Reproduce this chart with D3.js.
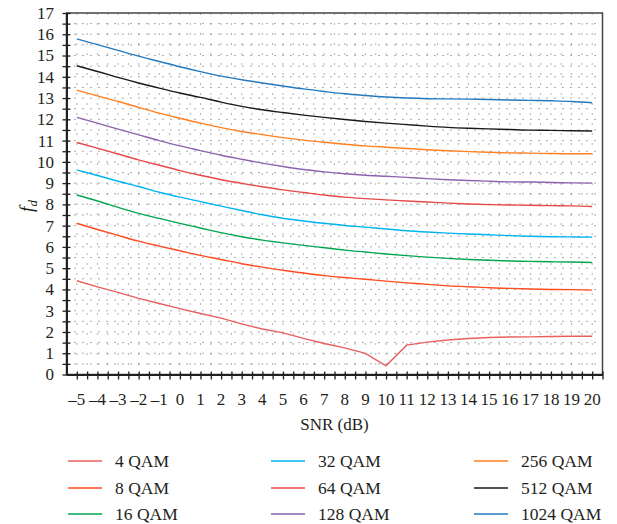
<!DOCTYPE html>
<html>
<head>
<meta charset="utf-8">
<script src="https://cdn.jsdelivr.net/npm/d3@7"></script>
<style>
  body { margin: 0; background: #fff; }
  svg { display: block; }
  text { font-family: "Liberation Serif", "DejaVu Serif", serif; fill: #231f20; }
</style>
</head>
<body>
<svg id="chart" width="617" height="524"></svg>
<script>
const snr = d3.range(-5, 21);
const xTickLabels = snr.map(v => v < 0 ? "\u2013" + Math.abs(v) : String(v));
const yTickValues = d3.range(0, 18);
const seriesNames = ["4 QAM", "8 QAM", "16 QAM", "32 QAM", "64 QAM", "128 QAM", "256 QAM", "512 QAM", "1024 QAM"];
const seriesColors = ["#e8605e", "#ff4a1f", "#00a650", "#00b4f0", "#e84848", "#8c62b0", "#ff8020", "#1a1a1a", "#2279c0"];

const qam4    = [4.41, 4.12, 3.86, 3.58, 3.34, 3.10, 2.87, 2.65, 2.38, 2.14, 1.96, 1.70, 1.46, 1.25, 0.99, 0.41, 1.38, 1.52, 1.62, 1.69, 1.74, 1.76, 1.77, 1.79, 1.80, 1.80];
const qam8    = [7.11, 6.82, 6.54, 6.27, 6.04, 5.82, 5.60, 5.41, 5.21, 5.05, 4.90, 4.77, 4.65, 4.56, 4.48, 4.39, 4.31, 4.24, 4.17, 4.13, 4.08, 4.05, 4.02, 4.00, 3.99, 3.97];
const qam16   = [8.44, 8.16, 7.86, 7.58, 7.34, 7.11, 6.89, 6.67, 6.48, 6.32, 6.19, 6.07, 5.96, 5.85, 5.76, 5.67, 5.59, 5.52, 5.46, 5.41, 5.37, 5.34, 5.32, 5.30, 5.29, 5.27];
const qam32   = [9.62, 9.36, 9.09, 8.84, 8.57, 8.34, 8.13, 7.92, 7.71, 7.51, 7.35, 7.22, 7.11, 7.01, 6.93, 6.84, 6.76, 6.70, 6.65, 6.61, 6.57, 6.53, 6.50, 6.48, 6.47, 6.46];
const qam64   = [10.91, 10.64, 10.37, 10.09, 9.84, 9.59, 9.37, 9.16, 8.99, 8.83, 8.68, 8.56, 8.44, 8.34, 8.27, 8.21, 8.16, 8.11, 8.06, 8.02, 7.99, 7.97, 7.96, 7.94, 7.93, 7.90];
const qam128  = [12.09, 11.82, 11.54, 11.27, 11.00, 10.75, 10.53, 10.31, 10.12, 9.94, 9.78, 9.64, 9.53, 9.44, 9.37, 9.32, 9.27, 9.21, 9.16, 9.12, 9.09, 9.06, 9.05, 9.03, 9.01, 9.00];
const qam256  = [13.37, 13.10, 12.84, 12.56, 12.29, 12.05, 11.82, 11.61, 11.43, 11.28, 11.14, 11.02, 10.92, 10.83, 10.75, 10.69, 10.63, 10.57, 10.52, 10.48, 10.45, 10.42, 10.41, 10.39, 10.38, 10.38];
const qam512  = [14.52, 14.25, 13.97, 13.71, 13.47, 13.24, 13.03, 12.81, 12.61, 12.45, 12.32, 12.20, 12.09, 11.99, 11.90, 11.82, 11.75, 11.68, 11.62, 11.58, 11.55, 11.52, 11.49, 11.48, 11.46, 11.45];
const qam1024 = [15.78, 15.51, 15.24, 14.97, 14.72, 14.47, 14.24, 14.03, 13.86, 13.71, 13.57, 13.43, 13.31, 13.20, 13.12, 13.05, 13.00, 12.97, 12.96, 12.95, 12.93, 12.91, 12.89, 12.87, 12.84, 12.78];

const seriesValues = [qam4, qam8, qam16, qam32, qam64, qam128, qam256, qam512, qam1024];

const svg = d3.select("#chart");
const L = 66.5, R = 602.5, T = 13, B = 374.5;
const x = d3.scaleLinear().domain([-5.5, 20.5]).range([L, R]);
const y = d3.scaleLinear().domain([0, 17]).range([B, T]);

// dotted grid
const halfX = d3.range(-5, 20.51, 0.5);
const halfY = d3.range(0.5, 17, 0.5);
const grid = svg.append("g");
grid.selectAll("line.h").data(halfY).join("line").attr("class", "h")
  .attr("x1", L).attr("x2", R).attr("y1", d => y(d)).attr("y2", d => y(d))
  .attr("stroke", "#555").attr("stroke-width", 1).attr("stroke-dasharray", "1,7");
grid.selectAll("line.v").data(halfX).join("line").attr("class", "v")
  .attr("y1", B).attr("y2", T).attr("x1", d => x(d)).attr("x2", d => x(d))
  .attr("stroke", "#666").attr("stroke-width", 1).attr("stroke-dasharray", "1,9");

// frame
svg.append("rect").attr("x", L).attr("y", T).attr("width", R - L).attr("height", B - T)
  .attr("fill", "none").attr("stroke", "#444").attr("stroke-width", 1.5);

// lines (4 QAM keeps its sharp kinks, the others are smooth)
const lineSmooth = d3.line().x((d, i) => x(snr[i])).y(d => y(d)).curve(d3.curveMonotoneX);
const lineStraight = d3.line().x((d, i) => x(snr[i])).y(d => y(d));
svg.append("g").selectAll("path").data(seriesValues).join("path")
  .attr("d", (d, i) => i === 0 ? lineStraight(d) : lineSmooth(d))
  .attr("fill", "none")
  .attr("stroke", (d, i) => seriesColors[i])
  .attr("stroke-width", 1.4);

// axes
const xAxis = d3.axisBottom(x).tickValues(d3.range(-5, 20.51, 0.5)).tickSize(0).tickFormat("");
const gx = svg.append("g").attr("transform", `translate(0,${B})`).call(xAxis);
gx.select(".domain").attr("stroke", "#231f20").attr("stroke-width", 2);
gx.selectAll(".tick line").attr("y1", -3).attr("y2", 5).attr("stroke", "#231f20").attr("stroke-width", 1.3);

svg.append("g").selectAll("text").data(snr).join("text")
  .attr("x", d => x(d)).attr("y", 405)
  .attr("text-anchor", "middle").attr("font-size", 17)
  .text((d, i) => xTickLabels[i]);

const yAxis = d3.axisLeft(y).tickValues(d3.range(0, 17.01, 0.5)).tickSize(0).tickFormat("");
const gy = svg.append("g").attr("transform", `translate(${L},0)`).call(yAxis);
gy.select(".domain").attr("stroke", "#231f20").attr("stroke-width", 2);
gy.selectAll(".tick line").attr("x1", -4).attr("x2", 4).attr("stroke", "#231f20").attr("stroke-width", 1.3);

svg.append("g").selectAll("text").data(yTickValues).join("text")
  .attr("x", 54).attr("y", d => y(d)).attr("dy", "0.35em")
  .attr("text-anchor", "end").attr("font-size", 17)
  .text(d => d);

// axis titles
svg.append("text").attr("x", x(7.5)).attr("y", 430).attr("text-anchor", "middle")
  .attr("font-size", 17).text("SNR (dB)");

const yt = svg.append("text").attr("transform", "translate(33,206) rotate(-90)")
  .attr("text-anchor", "middle").attr("font-size", 19).attr("font-style", "italic");
yt.append("tspan").text("f");
yt.append("tspan").attr("font-size", 13).attr("dy", 4).text("d");

// legend
const colX = [68, 271, 474];
const rowY = [461, 488, 514];
const leg = svg.append("g").selectAll("g").data(seriesNames).join("g")
  .attr("transform", (d, i) => `translate(${colX[Math.floor(i / 3)]},${rowY[i % 3]})`);
leg.append("line").attr("x1", 0).attr("x2", 34).attr("y1", 0).attr("y2", 0)
  .attr("stroke", (d, i) => seriesColors[i]).attr("stroke-width", 1.4);
leg.append("text").attr("x", 47).attr("dy", "0.35em").attr("font-size", 17.5).text(d => d);
</script>
</body>
</html>
